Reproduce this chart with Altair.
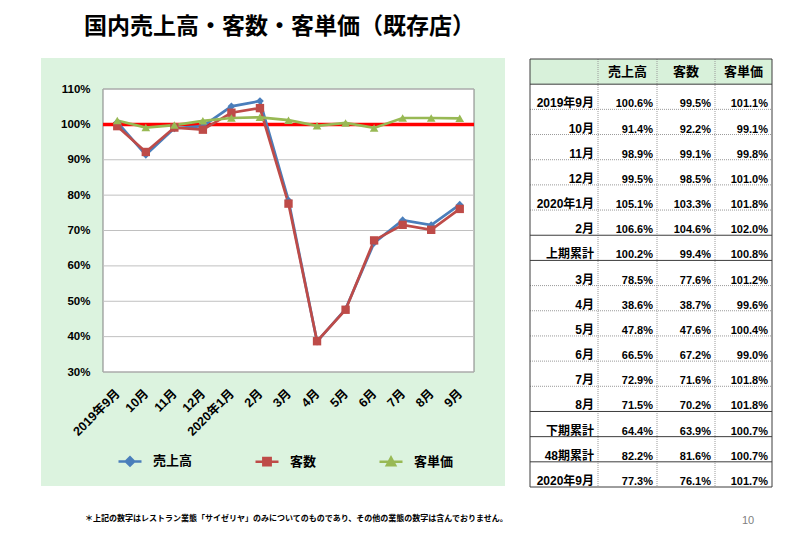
import altair as alt
import pandas as pd

# ---------------- data ----------------
TITLE = "国内売上高・客数・客単価（既存店）"
FOOTNOTE = "＊上記の数字はレストラン業態「サイゼリヤ」のみについてのものであり、その他の業態の数字は含んでおりません。"
PAGE_NO = "10"

SERIES = ["売上高", "客数", "客単価"]

TABLE_ROWS = ["2019年9月", "10月", "11月", "12月", "2020年1月", "2月", "上期累計",
              "3月", "4月", "5月", "6月", "7月", "8月", "下期累計", "48期累計", "2020年9月"]
SALES = [100.6, 91.4, 98.9, 99.5, 105.1, 106.6, 100.2, 78.5, 38.6, 47.8, 66.5, 72.9, 71.5, 64.4, 82.2, 77.3]
CUSTOMERS = [99.5, 92.2, 99.1, 98.5, 103.3, 104.6, 99.4, 77.6, 38.7, 47.6, 67.2, 71.6, 70.2, 63.9, 81.6, 76.1]
UNIT_PRICE = [101.1, 99.1, 99.8, 101.0, 101.8, 102.0, 100.8, 101.2, 99.6, 100.4, 99.0, 101.8, 101.8, 100.7, 100.7, 101.7]

CHART_MONTHS = ["2019年9月", "10月", "11月", "12月", "2020年1月", "2月", "3月", "4月",
                "5月", "6月", "7月", "8月", "9月"]
CHART_SOURCE_ROWS = ["2019年9月", "10月", "11月", "12月", "2020年1月", "2月", "3月", "4月",
                     "5月", "6月", "7月", "8月", "2020年9月"]
Y_TICKS = [30, 40, 50, 60, 70, 80, 90, 100, 110]
BASELINE = [100]
SOLID_AFTER = ["2月", "上期累計", "8月", "下期累計", "48期累計"]

# ---------------- styles / layout ----------------
SERIES_COLORS = ["#4a7ebb", "#be4b48", "#98b954"]
MARKERS = ["diamond", "square", "triangle-up"]
MARKER_SIZES = [60, 70, 75]
LEGEND_PATHS = [
    "M-1,0L1,0M-0.36,0L0,-0.36L0.36,0L0,0.36Z",
    "M-1,0L1,0M-0.32,-0.32L0.32,-0.32L0.32,0.32L-0.32,0.32Z",
    "M-1,0L1,0M-0.36,0.3L0,-0.36L0.36,0.3Z",
]
FONT = "Liberation Sans, Noto Sans CJK JP"
JP = "Noto Sans CJK JP"
W, H = 371, 283
COL_EDGES = [0, 68, 127, 185, 242]
TABLE_XRANGE = [427, 669]
TABLE_YRANGE = [-30, 398]
PANEL_GREEN = "#dcf3df"
HEADER_GREEN = "#d8f1da"

one = pd.DataFrame({"k": [0]})

# ---------------- chart data ----------------
cols = [SALES, CUSTOMERS, UNIT_PRICE]
recs = []
for m, r in zip(CHART_MONTHS, CHART_SOURCE_ROWS):
    i = TABLE_ROWS.index(r)
    for s, c in zip(SERIES, cols):
        recs.append({"month": m, "series": s, "value": c[i]})
line_df = pd.DataFrame(recs)

xscale = alt.Scale(type="point", domain=CHART_MONTHS, padding=0.5)
yscale = alt.Scale(domain=[30, 110], nice=False, zero=False)

x_axis = alt.Axis(labelAngle=315, labelAlign="right", labelBaseline="middle", domain=False,
                  ticks=False, tickSize=0, grid=False, labelPadding=19, labelFont=FONT,
                  labelFontSize=12.5, labelFontWeight="bold", labelColor="black", title=None,
                  zindex=2)
y_axis = alt.Axis(values=Y_TICKS, labelExpr="datum.value + '%'", domain=False, ticks=False,
                  tickSize=0, grid=False, labelPadding=13, labelFont=FONT, labelFontSize=11.5,
                  labelFontWeight="bold", labelColor="black", title=None, zindex=2)


def X(field):
    return alt.X(field, scale=xscale, axis=x_axis)


def Y(field):
    return alt.Y(field, scale=yscale, axis=y_axis)


panel = alt.Chart(one).mark_rect(fill=PANEL_GREEN).encode(
    x=alt.value(-62), x2=alt.value(402), y=alt.value(-31), y2=alt.value(397))
plotbg = alt.Chart(one).mark_rect(fill="white", stroke="#808080", strokeWidth=1).encode(
    x=alt.value(0), x2=alt.value(W), y=alt.value(0), y2=alt.value(H))
grid = alt.Chart(pd.DataFrame({"tick": Y_TICKS})).mark_rule(color="#c0c0c0", strokeWidth=1).encode(
    y=Y("tick:Q"))
red = alt.Chart(pd.DataFrame({"v": BASELINE})).mark_rule(color="#ff0000", strokeWidth=3.5).encode(
    y=Y("v:Q"))

series_layers = []
for s, col, shp, sz in zip(SERIES, SERIES_COLORS, MARKERS, MARKER_SIZES):
    base = alt.Chart(line_df).transform_filter(alt.datum.series == s)
    series_layers.append(base.mark_line(strokeWidth=2.7, color=col).encode(x=X("month:O"), y=Y("value:Q")))
for s, col, shp, sz in zip(SERIES, SERIES_COLORS, MARKERS, MARKER_SIZES):
    base = alt.Chart(line_df).transform_filter(alt.datum.series == s)
    series_layers.append(base.mark_point(shape=shp, filled=True, size=sz, opacity=1, color=col).encode(
        x=X("month:O"), y=Y("value:Q")))

leg = alt.Legend(title=None, zindex=2)
legend_layer = alt.Chart(pd.DataFrame({"series": SERIES})).mark_point(
    filled=True, size=529, strokeWidth=2.5, opacity=1).encode(
    x=alt.value(0), y=alt.value(-900),
    color=alt.Color("series:N", scale=alt.Scale(domain=SERIES, range=SERIES_COLORS), legend=leg),
    stroke=alt.Stroke("series:N", scale=alt.Scale(domain=SERIES, range=SERIES_COLORS), legend=leg),
    shape=alt.Shape("series:N", scale=alt.Scale(domain=SERIES, range=LEGEND_PATHS), legend=leg))

title = alt.Chart(pd.DataFrame({"t": [TITLE]})).mark_text(
    align="left", baseline="middle", font=JP, fontSize=23, fontWeight="bold", color="black").encode(
    x=alt.value(-19), y=alt.value(-62), text="t:N")
foot = alt.Chart(pd.DataFrame({"t": [FOOTNOTE]})).mark_text(
    align="left", baseline="middle", font=JP, fontSize=8, fontWeight="bold", color="black").encode(
    x=alt.value(-18), y=alt.value(430), text="t:N")
pno = alt.Chart(pd.DataFrame({"t": [PAGE_NO]})).mark_text(
    align="center", baseline="middle", font="Liberation Sans", fontSize=11, color="#808080").encode(
    x=alt.value(645), y=alt.value(432), text="t:N")

chart_part = alt.layer(panel, plotbg, grid, red, *series_layers, legend_layer, title, foot, pno)

# ---------------- table ----------------
nrows = len(TABLE_ROWS) + 1
TX = alt.Scale(domain=[COL_EDGES[0], COL_EDGES[-1]], range=TABLE_XRANGE, nice=False, zero=False)
TY = alt.Scale(domain=[0, nrows], range=TABLE_YRANGE, nice=False, zero=False)

header_bg = alt.Chart(pd.DataFrame({"x0": [COL_EDGES[0]], "x1": [COL_EDGES[-1]], "y0": [0], "y1": [1]})).mark_rect(
    fill=HEADER_GREEN).encode(
    x=alt.X("x0:Q", scale=TX, axis=None), x2="x1:Q",
    y=alt.Y("y0:Q", scale=TY, axis=None), y2="y1:Q")

solid_k = {0, 1, nrows} | {TABLE_ROWS.index(r) + 2 for r in SOLID_AFTER}
h_df = pd.DataFrame({"y": list(range(nrows + 1))})
h_df["x0"] = COL_EDGES[0]
h_df["x1"] = COL_EDGES[-1]
h_df["solid"] = h_df["y"].isin(solid_k)
v_df = pd.DataFrame({"x": COL_EDGES})
v_df["y0"] = 0
v_df["y1"] = nrows
v_df["solid"] = v_df["x"].isin([COL_EDGES[0], COL_EDGES[-1]])

h_solid = alt.Chart(h_df).transform_filter("datum.solid").mark_rule(color="#3c3c3c", strokeWidth=1).encode(
    x=alt.X("x0:Q", scale=TX, axis=None), x2="x1:Q", y=alt.Y("y:Q", scale=TY, axis=None))
h_dot = alt.Chart(h_df).transform_filter("!datum.solid").mark_rule(
    color="#9a9a9a", strokeWidth=1, strokeDash=[1, 1]).encode(
    x=alt.X("x0:Q", scale=TX, axis=None), x2="x1:Q", y=alt.Y("y:Q", scale=TY, axis=None))
v_solid = alt.Chart(v_df).transform_filter("datum.solid").mark_rule(color="#3c3c3c", strokeWidth=1).encode(
    x=alt.X("x:Q", scale=TX, axis=None), y=alt.Y("y0:Q", scale=TY, axis=None), y2="y1:Q")
v_dot = alt.Chart(v_df).transform_filter("!datum.solid").mark_rule(
    color="#9a9a9a", strokeWidth=1, strokeDash=[1, 1]).encode(
    x=alt.X("x:Q", scale=TX, axis=None), y=alt.Y("y0:Q", scale=TY, axis=None), y2="y1:Q")

hdr_df = pd.DataFrame({"t": SERIES,
                       "x": [(COL_EDGES[j + 1] + COL_EDGES[j + 2]) / 2 for j in range(3)],
                       "y": [0.5] * 3})
hdr = alt.Chart(hdr_df).mark_text(align="center", baseline="middle", font=JP, fontSize=13,
                                  fontWeight="bold", color="black").encode(
    x=alt.X("x:Q", scale=TX, axis=None), y=alt.Y("y:Q", scale=TY, axis=None), text="t:N")

label_df = pd.DataFrame({"t": TABLE_ROWS, "x": [COL_EDGES[1]] * len(TABLE_ROWS),
                         "y": [i + 2 for i in range(len(TABLE_ROWS))]})
labels = alt.Chart(label_df).mark_text(align="right", baseline="alphabetic", dx=-4, dy=-2, font=FONT,
                                       fontSize=12, fontWeight="bold", color="black").encode(
    x=alt.X("x:Q", scale=TX, axis=None), y=alt.Y("y:Q", scale=TY, axis=None), text="t:N")

cell_recs = []
for i, r in enumerate(TABLE_ROWS):
    for j, c in enumerate(cols):
        cell_recs.append({"t": f"{c[i]:.1f}%", "x": COL_EDGES[j + 2], "y": i + 2})
cell_df = pd.DataFrame(cell_recs)
cells = alt.Chart(cell_df).mark_text(align="right", baseline="alphabetic", dx=-4, dy=-2, font=FONT,
                                     fontSize=11, fontWeight="bold", color="black").encode(
    x=alt.X("x:Q", scale=TX, axis=None), y=alt.Y("y:Q", scale=TY, axis=None), text="t:N")

table_part = alt.layer(header_bg, h_dot, v_dot, h_solid, v_solid, hdr, labels, cells)

chart = alt.layer(chart_part, table_part).resolve_scale(
    x="independent", y="independent"
).properties(
    width=W, height=H,
    autosize=alt.AutoSizeParams(type="none"),
    padding={"left": 95, "top": 81, "right": 318, "bottom": 156},
    background="white",
).configure_view(stroke=None).configure_legend(
    orient="none", legendX=14, legendY=359, direction="horizontal", columns=3, padding=0,
    symbolSize=529, symbolStrokeWidth=2.5, labelFont=JP, labelFontSize=13,
    labelFontWeight="bold", labelColor="black", labelOffset=10, columnPadding=57, labelLimit=300,
)

chart.save("out.html", embed_options={"renderer": "svg", "actions": False})
